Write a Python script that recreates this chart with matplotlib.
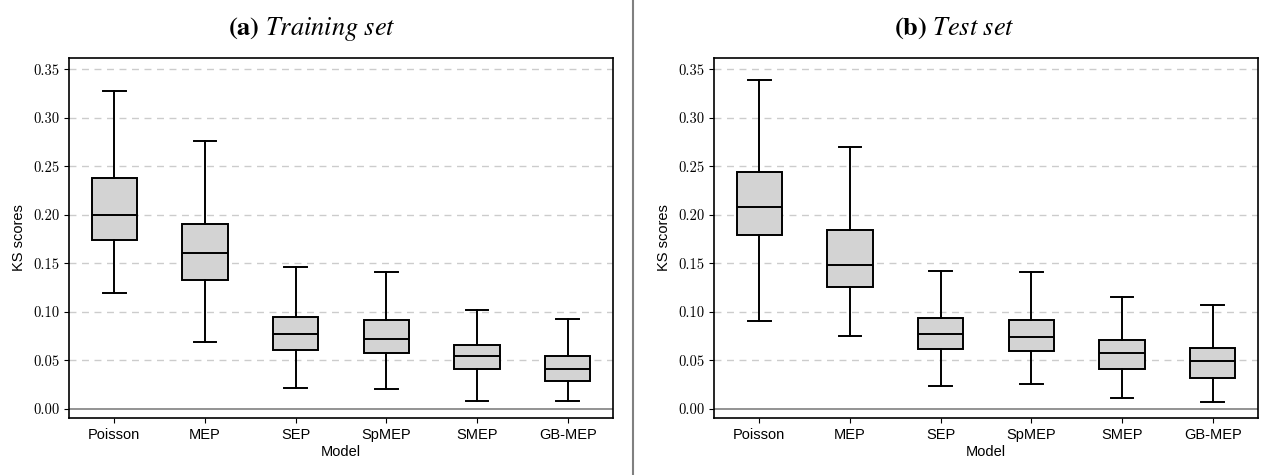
import matplotlib
matplotlib.use("Agg")
import matplotlib.pyplot as plt
from matplotlib.lines import Line2D

models = ["Poisson", "MEP", "SEP", "SpMEP", "SMEP", "GB-MEP"]

# whisker low, Q1, median, Q3, whisker high
train_low = [0.119, 0.069, 0.021, 0.020, 0.008, 0.008]
train_q1 = [0.174, 0.133, 0.061, 0.058, 0.041, 0.029]
train_med = [0.200, 0.161, 0.077, 0.072, 0.054, 0.041]
train_q3 = [0.238, 0.190, 0.095, 0.092, 0.066, 0.054]
train_high = [0.328, 0.276, 0.146, 0.141, 0.102, 0.093]

test_low = [0.090, 0.075, 0.023, 0.026, 0.011, 0.007]
test_q1 = [0.179, 0.126, 0.062, 0.060, 0.041, 0.032]
test_med = [0.208, 0.148, 0.077, 0.074, 0.057, 0.049]
test_q3 = [0.244, 0.184, 0.094, 0.092, 0.071, 0.063]
test_high = [0.339, 0.270, 0.142, 0.141, 0.115, 0.107]

yticks = [0.00, 0.05, 0.10, 0.15, 0.20, 0.25, 0.30, 0.35]

sans = "Liberation Sans"
plt.rcParams["mathtext.fontset"] = "stix"


def make_stats(low, q1, med, q3, high):
    stats = []
    for i in range(len(models)):
        stats.append(dict(whislo=low[i], q1=q1[i], med=med[i], q3=q3[i],
                          whishi=high[i], fliers=[], label=models[i]))
    return stats


def draw_panel(ax, stats):
    ax.set_axisbelow(True)
    for y in yticks[1:]:
        ax.axhline(y, color="#cccccc", lw=1, ls=(0, (5, 4)), zorder=0)
    ax.axhline(0, color="#808080", lw=1.2, zorder=0)
    ax.bxp(stats, positions=range(len(models)), widths=0.5, patch_artist=True,
           showfliers=False,
           boxprops=dict(facecolor="#d3d3d3", edgecolor="black", linewidth=1.4),
           medianprops=dict(color="black", linewidth=1.4),
           whiskerprops=dict(color="black", linewidth=1.4),
           capprops=dict(color="black", linewidth=1.4))
    ax.set_xlim(-0.5, len(models) - 0.5)
    ax.set_ylim(-0.0095, 0.3615)
    ax.set_yticks(yticks)
    ax.set_yticklabels([f"{v:.2f}" for v in yticks], fontfamily="cmr10", fontsize=10.5)
    ax.set_xticks(range(len(models)))
    ax.set_xticklabels(models, fontfamily=sans, fontsize=10.5)
    ax.set_xlabel("Model", fontfamily=sans, fontsize=10.5, labelpad=2)
    ax.set_ylabel("KS scores", fontfamily=sans, fontsize=10.5, labelpad=5)
    for s in ax.spines.values():
        s.set_linewidth(1.2)


fig = plt.figure(figsize=(12.61, 4.75), dpi=100)
ax1 = fig.add_axes([69 / 1261, 1 - 418 / 475, 544 / 1261, 360 / 475])
ax2 = fig.add_axes([714 / 1261, 1 - 418 / 475, 544 / 1261, 360 / 475])

draw_panel(ax1, make_stats(train_low, train_q1, train_med, train_q3, train_high))
draw_panel(ax2, make_stats(test_low, test_q1, test_med, test_q3, test_high))

fig.text(311.5 / 1261, 1 - 35 / 475, r"$\mathbf{(a)}\ \mathit{Training\ set}$",
         fontsize=19, ha="center", va="baseline")
fig.text(954.5 / 1261, 1 - 35 / 475, r"$\mathbf{(b)}\ \mathit{Test\ set}$",
         fontsize=19, ha="center", va="baseline")

fig.add_artist(Line2D([633 / 1261, 633 / 1261], [0, 1], color="#808080", lw=1.5,
                      transform=fig.transFigure))

fig.savefig("out.png", dpi=100)
plt.close(fig)
